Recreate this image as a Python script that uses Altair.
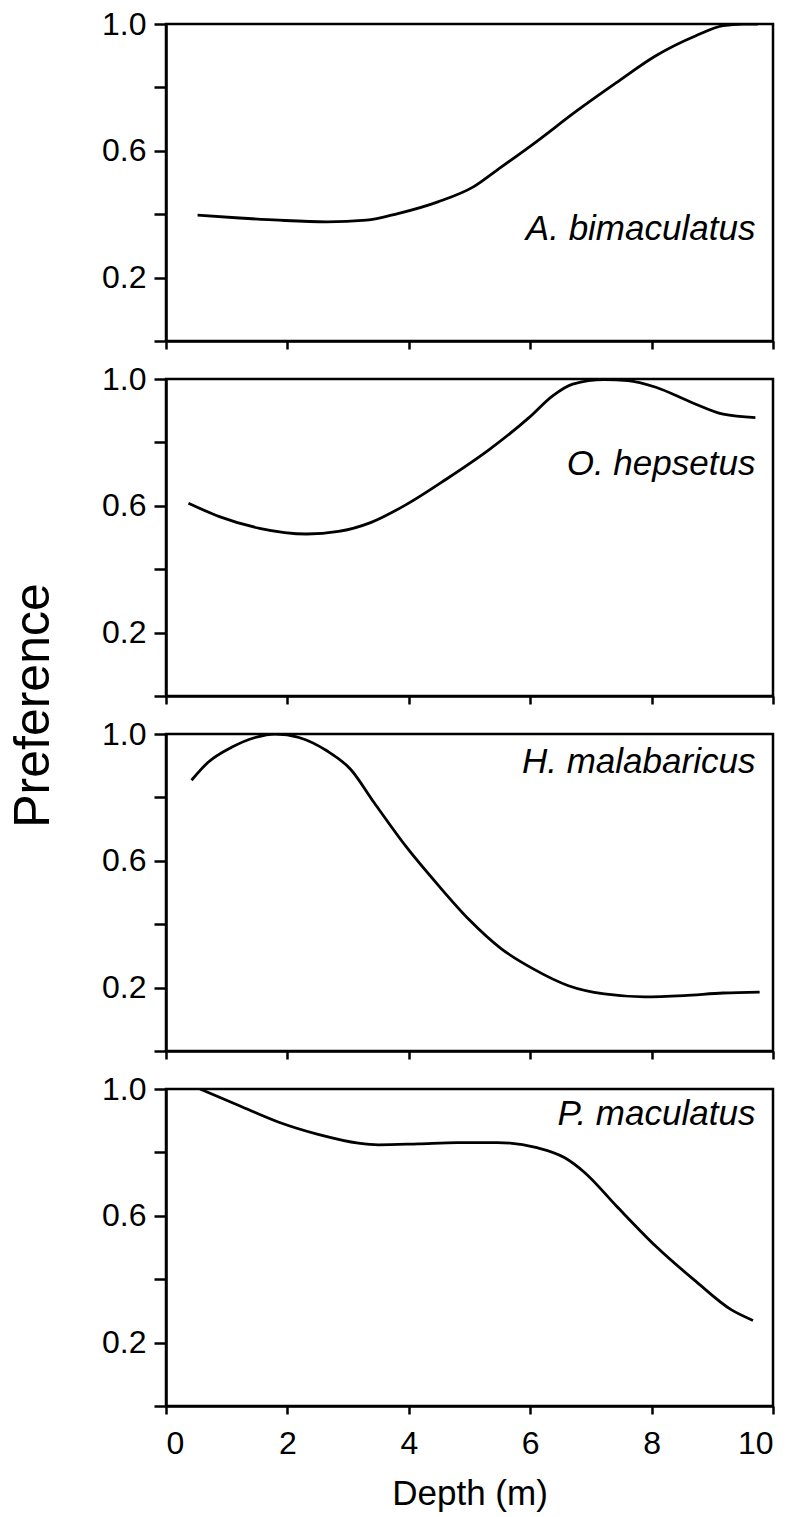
import altair as alt
import pandas as pd

FONT = "Liberation Sans"

species = ["A. bimaculatus", "O. hepsetus", "H. malabaricus", "P. maculatus"]

a_depth = [0.52, 1.21, 1.86, 2.65, 3.30, 3.82, 4.48, 5.07, 5.46, 6.11, 6.76, 7.42, 8.07, 8.73, 9.18, 9.51, 9.75]
a_pref  = [0.397, 0.388, 0.381, 0.376, 0.381, 0.402, 0.439, 0.487, 0.540, 0.630, 0.725, 0.815, 0.900, 0.963, 0.995, 1.0, 1.0]

o_depth = [0.37, 0.88, 1.54, 2.32, 2.84, 3.37, 3.95, 4.61, 5.33, 5.98, 6.37, 6.70, 7.22, 7.61, 8.07, 8.66, 9.18, 9.71]
o_pref  = [0.608, 0.566, 0.529, 0.511, 0.519, 0.547, 0.603, 0.683, 0.778, 0.878, 0.947, 0.984, 0.998, 0.995, 0.974, 0.926, 0.889, 0.878]

h_depth = [0.42, 0.69, 1.08, 1.47, 1.80, 2.19, 2.65, 3.04, 3.43, 3.95, 4.48, 5.00, 5.52, 6.05, 6.63, 7.22, 7.88, 8.53, 9.18, 9.78]
h_pref  = [0.854, 0.910, 0.958, 0.989, 1.0, 0.989, 0.947, 0.889, 0.783, 0.646, 0.524, 0.413, 0.323, 0.259, 0.206, 0.180, 0.171, 0.175, 0.183, 0.186]

p_depth = [0.56, 1.21, 1.86, 2.52, 3.17, 3.50, 4.15, 4.80, 5.46, 6.11, 6.57, 6.90, 7.42, 8.07, 8.73, 9.31, 9.67]
p_pref  = [1.0, 0.947, 0.895, 0.856, 0.829, 0.824, 0.827, 0.831, 0.831, 0.815, 0.783, 0.736, 0.631, 0.504, 0.393, 0.304, 0.270]

label_x = [9.71, 9.71, 9.71, 9.71]
label_y = [0.32, 0.698, 0.876, 0.887]

x_ticks = [0, 2, 4, 6, 8, 10]
y_ticks = [0, 0.2, 0.4, 0.6, 0.8, 1.0]

series = [(a_depth, a_pref), (o_depth, o_pref), (h_depth, h_pref), (p_depth, p_pref)]

W, H = 607, 317
LW = 2.5

panels = []
for i, (name, (dx, dy)) in enumerate(zip(species, series)):
    last = i == len(species) - 1
    df = pd.DataFrame({"depth": dx, "pref": dy})
    lab = pd.DataFrame({"x": [label_x[i]], "y": [label_y[i]], "t": [name]})
    xaxis = alt.Axis(
        values=x_ticks, labels=last, title="Depth (m)" if last else None, format="d",
        tickSize=8, tickWidth=LW, domainWidth=LW, domainColor="black", tickColor="black",
        grid=False, labelFontSize=32, labelPadding=14, labelColor="black", labelFont=FONT,
        titleFontSize=35, titleFont=FONT, titleFontWeight="normal", titleColor="black", titlePadding=17,
    )
    yaxis = alt.Axis(
        values=y_ticks, title=None,
        labelExpr="indexof([2,6,10], round(datum.value*10)) >= 0 ? format(datum.value, '.1f') : ''",
        tickSize=12, tickWidth=LW, domainWidth=LW, domainColor="black", tickColor="black",
        grid=False, labelFontSize=32, labelPadding=8, labelColor="black", labelFont=FONT,
    )
    line = alt.Chart(df).mark_line(color="black", strokeWidth=2.8, interpolate="monotone", clip=True).encode(
        x=alt.X("depth:Q", scale=alt.Scale(domain=[0, 10], nice=False), axis=xaxis),
        y=alt.Y("pref:Q", scale=alt.Scale(domain=[0, 1], nice=False), axis=yaxis),
    )
    text = alt.Chart(lab).mark_text(
        font=FONT, fontSize=35, fontStyle="italic", align="right", baseline="alphabetic", color="black"
    ).encode(x="x:Q", y="y:Q", text="t:N")
    panels.append(alt.layer(line, text).properties(width=W, height=H))

chart = alt.vconcat(*panels, spacing=38, bounds="flush").properties(
    title=alt.TitleParams("Preference", orient="left", anchor="middle", fontSize=50,
                          font=FONT, fontWeight="normal", color="black", offset=41, dx=54),
    padding={"left": 9, "top": 6, "right": 2, "bottom": 5},
    background="white",
).configure_view(stroke="black", strokeWidth=LW)

chart.save("out.html", embed_options={"renderer": "svg", "actions": False})
